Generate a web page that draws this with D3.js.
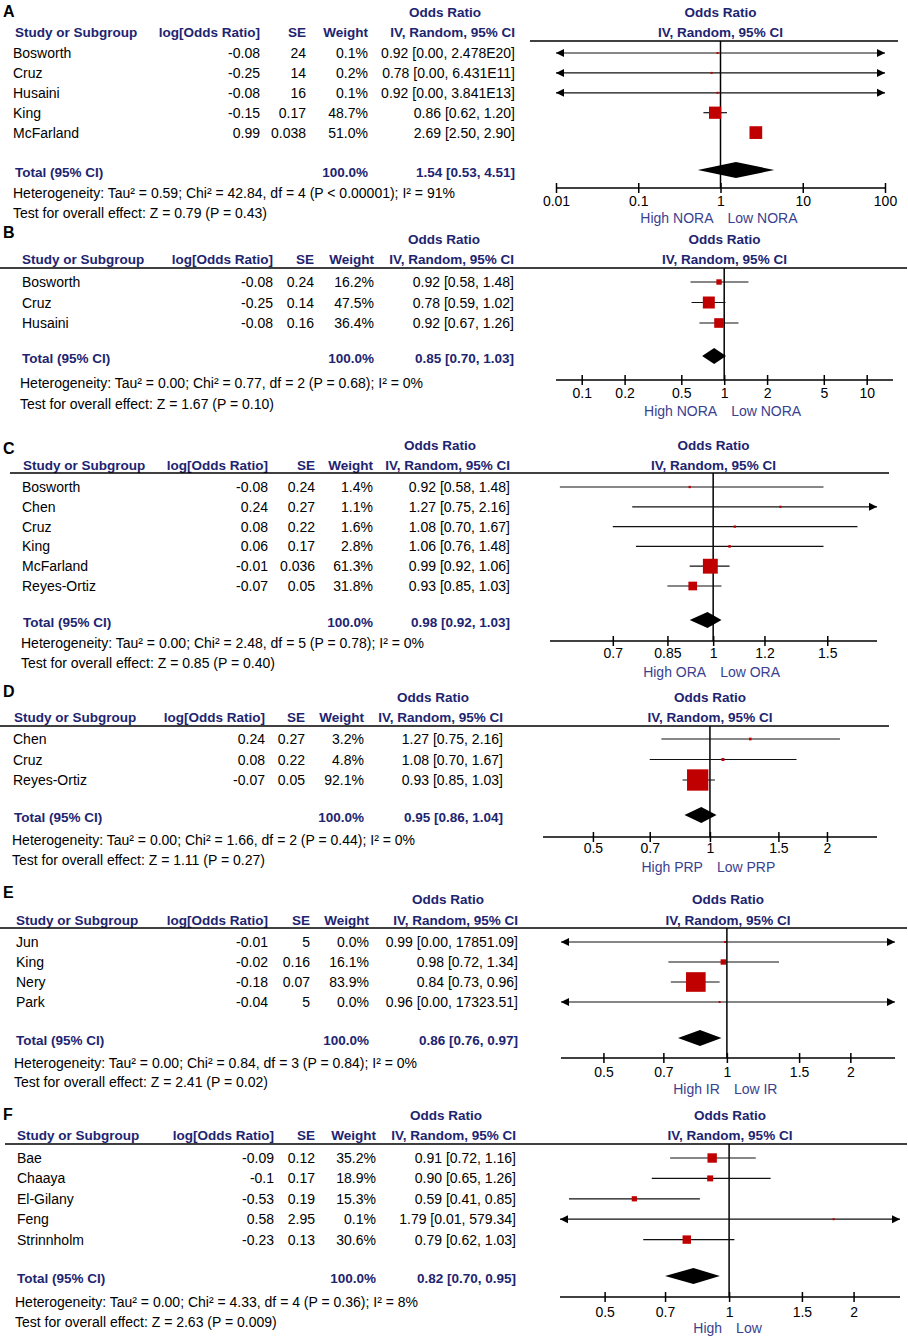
<!DOCTYPE html>
<html>
<head>
<meta charset="utf-8">
<script src="https://cdn.jsdelivr.net/npm/d3@7"></script>
<style>
  body { margin: 0; background: #fff; }
  svg text { font-family: "Liberation Sans", Arial, sans-serif; }
</style>
</head>
<body>
<div id="chart"></div>
<script>
// data, one entry per panel (A-F)
const panelLetters = ['A', 'B', 'C', 'D', 'E', 'F']

const studyNames = [
  ['Bosworth', 'Cruz', 'Husaini', 'King', 'McFarland'],
  ['Bosworth', 'Cruz', 'Husaini'],
  ['Bosworth', 'Chen', 'Cruz', 'King', 'McFarland', 'Reyes-Ortiz'],
  ['Chen', 'Cruz', 'Reyes-Ortiz'],
  ['Jun', 'King', 'Nery', 'Park'],
  ['Bae', 'Chaaya', 'El-Gilany', 'Feng', 'Strinnholm'],
]
const logOddsText = [
  ['-0.08', '-0.25', '-0.08', '-0.15', '0.99'],
  ['-0.08', '-0.25', '-0.08'],
  ['-0.08', '0.24', '0.08', '0.06', '-0.01', '-0.07'],
  ['0.24', '0.08', '-0.07'],
  ['-0.01', '-0.02', '-0.18', '-0.04'],
  ['-0.09', '-0.1', '-0.53', '0.58', '-0.23'],
]
const seText = [
  ['24', '14', '16', '0.17', '0.038'],
  ['0.24', '0.14', '0.16'],
  ['0.24', '0.27', '0.22', '0.17', '0.036', '0.05'],
  ['0.27', '0.22', '0.05'],
  ['5', '0.16', '0.07', '5'],
  ['0.12', '0.17', '0.19', '2.95', '0.13'],
]
const weights = [
  [0.1, 0.2, 0.1, 48.7, 51.0],
  [16.2, 47.5, 36.4],
  [1.4, 1.1, 1.6, 2.8, 61.3, 31.8],
  [3.2, 4.8, 92.1],
  [0.0, 16.1, 83.9, 0.0],
  [35.2, 18.9, 15.3, 0.1, 30.6],
]
const oddsRatios = [
  [0.92, 0.78, 0.92, 0.86, 2.69],
  [0.92, 0.78, 0.92],
  [0.92, 1.27, 1.08, 1.06, 0.99, 0.93],
  [1.27, 1.08, 0.93],
  [0.99, 0.98, 0.84, 0.96],
  [0.91, 0.90, 0.59, 1.79, 0.79],
]
const ciLower = [
  [0.00, 0.00, 0.00, 0.62, 2.50],
  [0.58, 0.59, 0.67],
  [0.58, 0.75, 0.70, 0.76, 0.92, 0.85],
  [0.75, 0.70, 0.85],
  [0.00, 0.72, 0.73, 0.00],
  [0.72, 0.65, 0.41, 0.01, 0.62],
]
const ciUpper = [
  [2.478e20, 6.431e11, 3.841e13, 1.20, 2.90],
  [1.48, 1.02, 1.26],
  [1.48, 2.16, 1.67, 1.48, 1.06, 1.03],
  [2.16, 1.67, 1.03],
  [17851.09, 1.34, 0.96, 17323.51],
  [1.16, 1.26, 0.85, 579.34, 1.03],
]
const totalOR = [1.54, 0.85, 0.98, 0.95, 0.86, 0.82]
const totalLower = [0.53, 0.70, 0.92, 0.86, 0.76, 0.70]
const totalUpper = [4.51, 1.03, 1.03, 1.04, 0.97, 0.95]
const heterogeneity = [
  'Heterogeneity: Tau² = 0.59; Chi² = 42.84, df = 4 (P < 0.00001); I² = 91%',
  'Heterogeneity: Tau² = 0.00; Chi² = 0.77, df = 2 (P = 0.68); I² = 0%',
  'Heterogeneity: Tau² = 0.00; Chi² = 2.48, df = 5 (P = 0.78); I² = 0%',
  'Heterogeneity: Tau² = 0.00; Chi² = 1.66, df = 2 (P = 0.44); I² = 0%',
  'Heterogeneity: Tau² = 0.00; Chi² = 0.84, df = 3 (P = 0.84); I² = 0%',
  'Heterogeneity: Tau² = 0.00; Chi² = 4.33, df = 4 (P = 0.36); I² = 8%',
]
const overallEffect = [
  'Test for overall effect: Z = 0.79 (P = 0.43)',
  'Test for overall effect: Z = 1.67 (P = 0.10)',
  'Test for overall effect: Z = 0.85 (P = 0.40)',
  'Test for overall effect: Z = 1.11 (P = 0.27)',
  'Test for overall effect: Z = 2.41 (P = 0.02)',
  'Test for overall effect: Z = 2.63 (P = 0.009)',
]
const favoursLeft = ['High NORA', 'High NORA', 'High ORA', 'High PRP', 'High IR', 'High']
const favoursRight = ['Low NORA', 'Low NORA', 'Low ORA', 'Low PRP', 'Low IR', 'Low']
const axisTicks = [
  [0.01, 0.1, 1, 10, 100],
  [0.1, 0.2, 0.5, 1, 2, 5, 10],
  [0.7, 0.85, 1, 1.2, 1.5],
  [0.5, 0.7, 1, 1.5, 2],
  [0.5, 0.7, 1, 1.5, 2],
  [0.5, 0.7, 1, 1.5, 2],
]
const axisDomains = [
  [0.01, 100],
  [0.066, 15.3],
  [0.56, 1.79],
  [0.372, 2.69],
  [0.394, 2.57],
  [0.39, 2.59],
]

// layout of each pasted panel (pixels)
const layout = [
  { letterY: 11, titleY: 12, headY: 32, ruleY: 41, ruleX: [530, 898], rowY: 53, rowStep: 19.9, totalY: 172, hetY: 193, testY: 213, axisY: 188, axisX: [556, 885], tickY: 201, favY: 218, nameX: 13, headX: 15, cols: [260, 306, 368, 515] },
  { letterY: 232, titleY: 239, headY: 259, ruleY: 268, ruleX: [0, 907], rowY: 282, rowStep: 20.5, totalY: 358, hetY: 383, testY: 404, axisY: 380, axisX: [556, 893], tickY: 393, favY: 411, nameX: 22, headX: 22, cols: [273, 314, 374, 514] },
  { letterY: 448, titleY: 445, headY: 465, ruleY: 473, ruleX: [10, 889], rowY: 487, rowStep: 19.8, totalY: 622, hetY: 643, testY: 663, axisY: 641, axisX: [550, 877], tickY: 653, favY: 672, nameX: 22, headX: 23, cols: [268, 315, 373, 510] },
  { letterY: 691, titleY: 697, headY: 717, ruleY: 726, ruleX: [0, 889], rowY: 739, rowStep: 20.5, totalY: 817, hetY: 840, testY: 860, axisY: 837, axisX: [543, 877], tickY: 848, favY: 867, nameX: 13, headX: 14, cols: [265, 305, 364, 503] },
  { letterY: 892, titleY: 899, headY: 920, ruleY: 928, ruleX: [0, 907], rowY: 942, rowStep: 20, totalY: 1040, hetY: 1063, testY: 1082, axisY: 1058, axisX: [561, 895], tickY: 1072, favY: 1089, nameX: 16, headX: 16, cols: [268, 310, 369, 518] },
  { letterY: 1114, titleY: 1115, headY: 1135, ruleY: 1144, ruleX: [5, 907], rowY: 1158, rowStep: 20.4, totalY: 1278, hetY: 1302, testY: 1322, axisY: 1297, axisX: [560, 900], tickY: 1312, favY: 1328, nameX: 17, headX: 17, cols: [274, 315, 376, 516] },
]

const width = 908
const height = 1339
const fontSize = 14
const boldSize = 13.5
const headColor = '#1d2470'
const favColor = '#3a3f8f'
const squareColor = '#c00000'

const sizeScale = d3.scaleLinear().domain([0, 100]).range([2, 23])
const fmt2 = v => v.toFixed(2)
const fmtUpper = v => (v >= 1e6 ? v.toExponential(3).replace('e+', 'E') : v.toFixed(2))
const ciLabel = (o, lo, hi) => `${fmt2(o)} [${fmt2(lo)}, ${fmtUpper(hi)}]`

const svg = d3
  .select('#chart')
  .append('svg')
  .attr('width', width)
  .attr('height', height)
  .attr('viewBox', [0, 0, width, height])

panelLetters.forEach((letter, p) => {
  const L = layout[p]
  const g = svg.append('g').attr('class', `panel-${letter}`)
  const x = d3.scaleLog().domain(axisDomains[p]).range(L.axisX)
  const [domLo, domHi] = axisDomains[p]
  const plotMid = (L.axisX[0] + L.axisX[1]) / 2

  const text = (tx, ty, str, opts = {}) =>
    g
      .append('text')
      .attr('x', tx)
      .attr('y', ty)
      .attr('dy', '0.36em')
      .attr('font-size', opts.size || (opts.bold ? boldSize : fontSize))
      .attr('font-weight', opts.bold ? 'bold' : null)
      .attr('fill', opts.color || '#000')
      .attr('text-anchor', opts.anchor || 'start')
      .text(str)

  // panel letter
  text(3, L.letterY, letter, { bold: true, size: 16 })

  // headers
  const ciCol = L.cols[3]
  text(ciCol - 70, L.titleY, 'Odds Ratio', { bold: true, color: headColor, anchor: 'middle' })
  text(plotMid, L.titleY, 'Odds Ratio', { bold: true, color: headColor, anchor: 'middle' })
  text(L.headX, L.headY, 'Study or Subgroup', { bold: true, color: headColor })
  text(L.cols[0], L.headY, 'log[Odds Ratio]', { bold: true, color: headColor, anchor: 'end' })
  text(L.cols[1], L.headY, 'SE', { bold: true, color: headColor, anchor: 'end' })
  text(L.cols[2], L.headY, 'Weight', { bold: true, color: headColor, anchor: 'end' })
  text(ciCol, L.headY, 'IV, Random, 95% CI', { bold: true, color: headColor, anchor: 'end' })
  text(plotMid, L.headY, 'IV, Random, 95% CI', { bold: true, color: headColor, anchor: 'middle' })

  g.append('line')
    .attr('x1', L.ruleX[0]).attr('x2', L.ruleX[1])
    .attr('y1', L.ruleY).attr('y2', L.ruleY)
    .attr('stroke', '#000').attr('stroke-width', 1.5)

  // line of no effect
  g.append('line')
    .attr('x1', x(1)).attr('x2', x(1))
    .attr('y1', L.ruleY).attr('y2', L.axisY)
    .attr('stroke', '#000').attr('stroke-width', 1.5)

  // study rows
  const rows = studyNames[p].map((name, i) => ({
    name,
    logOr: logOddsText[p][i],
    se: seText[p][i],
    weight: weights[p][i],
    or: oddsRatios[p][i],
    lo: ciLower[p][i],
    hi: ciUpper[p][i],
    y: L.rowY + i * L.rowStep,
  }))

  rows.forEach(d => {
    text(L.nameX, d.y, d.name)
    text(L.cols[0], d.y, d.logOr, { anchor: 'end' })
    text(L.cols[1], d.y, d.se, { anchor: 'end' })
    text(L.cols[2], d.y, `${d.weight.toFixed(1)}%`, { anchor: 'end' })
    text(ciCol, d.y, ciLabel(d.or, d.lo, d.hi), { anchor: 'end' })

    const x1 = d.lo <= domLo ? x.range()[0] : x(d.lo)
    const x2 = d.hi >= domHi ? x.range()[1] : x(d.hi)
    g.append('line')
      .attr('x1', x1).attr('x2', x2)
      .attr('y1', d.y).attr('y2', d.y)
      .attr('stroke', '#111').attr('stroke-width', 1.2)
    if (d.lo <= domLo) {
      g.append('path')
        .attr('d', `M${x1},${d.y}L${x1 + 8},${d.y - 4}L${x1 + 8},${d.y + 4}Z`)
        .attr('fill', '#000')
    }
    if (d.hi >= domHi) {
      g.append('path')
        .attr('d', `M${x2},${d.y}L${x2 - 8},${d.y - 4}L${x2 - 8},${d.y + 4}Z`)
        .attr('fill', '#000')
    }
    const s = sizeScale(d.weight)
    g.append('rect')
      .attr('x', x(d.or) - s / 2)
      .attr('y', d.y - s / 2)
      .attr('width', s)
      .attr('height', s)
      .attr('fill', squareColor)
  })

  // total row
  text(L.headX, L.totalY, 'Total (95% CI)', { bold: true, color: headColor })
  text(L.cols[2], L.totalY, '100.0%', { bold: true, color: headColor, anchor: 'end' })
  text(ciCol, L.totalY, ciLabel(totalOR[p], totalLower[p], totalUpper[p]), { bold: true, color: headColor, anchor: 'end' })

  const dy = 8
  g.append('path')
    .attr('d', `M${x(totalLower[p])},${L.totalY - 2}L${x(totalOR[p])},${L.totalY - 2 - dy}L${x(totalUpper[p])},${L.totalY - 2}L${x(totalOR[p])},${L.totalY - 2 + dy}Z`)
    .attr('fill', '#000')

  text(L.headX - 2, L.hetY, heterogeneity[p])
  text(L.headX - 2, L.testY, overallEffect[p])

  // axis
  const axis = d3
    .axisBottom(x)
    .tickValues(axisTicks[p])
    .tickFormat(d => String(d))
    .tickSize(0)
  const axisG = g.append('g').attr('transform', `translate(0,${L.axisY})`).call(axis)
  axisG.select('.domain')
    .attr('d', `M${L.axisX[0]},0H${L.axisX[1]}`)
    .attr('stroke', '#000').attr('stroke-width', 1.5)
  axisG.selectAll('.tick line')
    .attr('y1', -5).attr('y2', 5)
    .attr('stroke', '#000').attr('stroke-width', 1.5)
  axisG.selectAll('.tick text')
    .attr('y', L.tickY - L.axisY)
    .attr('dy', '0.36em')
    .attr('font-size', fontSize)
    .attr('font-family', '"Liberation Sans", Arial, sans-serif')
    .attr('fill', '#000')

  text(x(1) - 7, L.favY, favoursLeft[p], { color: favColor, anchor: 'end' })
  text(x(1) + 7, L.favY, favoursRight[p], { color: favColor })
})
</script>
</body>
</html>
